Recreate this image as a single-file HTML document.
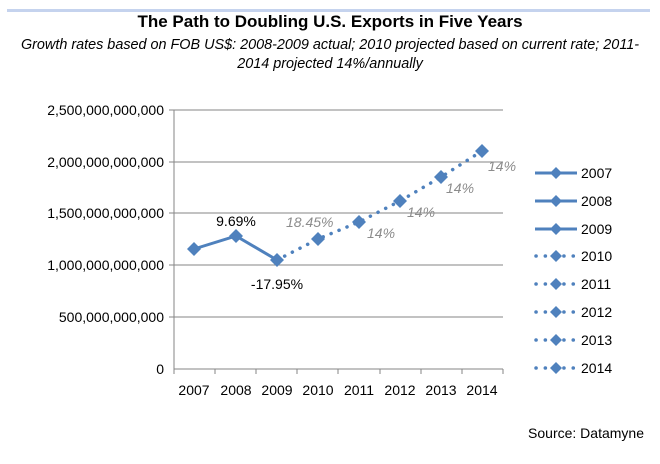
<!DOCTYPE html>
<html><head><style>
body{margin:0;background:#fff;}
svg text{font-family:"Liberation Sans",sans-serif;}
</style></head><body>
<svg width="660" height="459" xmlns="http://www.w3.org/2000/svg">
<rect x="7" y="9" width="643" height="3" fill="#c5d3ee"/>
<text x="330" y="27" text-anchor="middle" font-size="17" font-weight="bold" fill="#000">The Path to Doubling U.S. Exports in Five Years</text>
<text x="330" y="49" text-anchor="middle" font-size="14.4" font-style="italic" fill="#000">Growth rates based on FOB US$: 2008-2009 actual; 2010 projected based on current rate; 2011-</text>
<text x="330" y="68" text-anchor="middle" font-size="14.4" font-style="italic" fill="#000">2014 projected 14%/annually</text>
<g stroke="#868686" stroke-width="1">
<line x1="174" y1="110" x2="503" y2="110"/>
<line x1="174" y1="162" x2="503" y2="162"/>
<line x1="174" y1="213" x2="503" y2="213"/>
<line x1="174" y1="265" x2="503" y2="265"/>
<line x1="174" y1="317" x2="503" y2="317"/>
<line x1="174" y1="369" x2="503" y2="369"/>
<line x1="174" y1="110" x2="174" y2="374"/>
<line x1="215" y1="369" x2="215" y2="374"/><line x1="256" y1="369" x2="256" y2="374"/>
<line x1="297" y1="369" x2="297" y2="374"/><line x1="338" y1="369" x2="338" y2="374"/>
<line x1="380" y1="369" x2="380" y2="374"/><line x1="421" y1="369" x2="421" y2="374"/>
<line x1="462" y1="369" x2="462" y2="374"/><line x1="503" y1="369" x2="503" y2="374"/>
<line x1="169" y1="110" x2="174" y2="110"/><line x1="169" y1="162" x2="174" y2="162"/>
<line x1="169" y1="213" x2="174" y2="213"/><line x1="169" y1="265" x2="174" y2="265"/>
<line x1="169" y1="317" x2="174" y2="317"/>
</g>
<g font-size="14" text-anchor="end" fill="#000">
<text x="164" y="115">2,500,000,000,000</text>
<text x="164" y="167">2,000,000,000,000</text>
<text x="164" y="218">1,500,000,000,000</text>
<text x="164" y="270">1,000,000,000,000</text>
<text x="164" y="322">500,000,000,000</text>
<text x="164" y="374">0</text>
</g>
<g font-size="14" text-anchor="middle" fill="#000">
<text x="194" y="395">2007</text><text x="236" y="395">2008</text><text x="277" y="395">2009</text>
<text x="318" y="395">2010</text><text x="359" y="395">2011</text><text x="400" y="395">2012</text>
<text x="441" y="395">2013</text><text x="482" y="395">2014</text>
</g>
<polyline points="194,249 236,236 277,260" fill="none" stroke="#4f81bd" stroke-width="3"/>
<polyline points="277,260 318,239 359,222 400,201 441,177 482,151" fill="none" stroke="#4f81bd" stroke-width="3.5" stroke-dasharray="0.1 8.5" stroke-linecap="round"/>
<g fill="#4f81bd">
<path d="M194,242 l7,7 -7,7 -7,-7z"/><path d="M236,229 l7,7 -7,7 -7,-7z"/><path d="M277,253 l7,7 -7,7 -7,-7z"/>
<path d="M318,232 l7,7 -7,7 -7,-7z"/><path d="M359,215 l7,7 -7,7 -7,-7z"/><path d="M400,194 l7,7 -7,7 -7,-7z"/>
<path d="M441,170 l7,7 -7,7 -7,-7z"/><path d="M482,144 l7,7 -7,7 -7,-7z"/>
</g>
<text x="236" y="226" font-size="14" text-anchor="middle">9.69%</text>
<text x="277" y="289" font-size="14" text-anchor="middle">-17.95%</text>
<g font-size="14" font-style="italic" fill="#8c8c8c">
<text x="286" y="227">18.45%</text>
<text x="367" y="238">14%</text>
<text x="407" y="217">14%</text>
<text x="446" y="193">14%</text>
<text x="488" y="171">14%</text>
</g>
<g font-size="14" fill="#000">
<g stroke="#4f81bd" stroke-width="3"><line x1="535" y1="173" x2="577" y2="173"/><line x1="535" y1="201" x2="577" y2="201"/><line x1="535" y1="229" x2="577" y2="229"/></g>
<g stroke="#4f81bd" stroke-width="3.5" stroke-dasharray="0.1 9.2" stroke-linecap="round">
<line x1="536" y1="256" x2="578" y2="256"/><line x1="536" y1="284" x2="578" y2="284"/><line x1="536" y1="312" x2="578" y2="312"/><line x1="536" y1="340" x2="578" y2="340"/><line x1="536" y1="368" x2="578" y2="368"/></g>
<g fill="#4f81bd">
<path d="M556,167 l6,6 -6,6 -6,-6z"/><path d="M556,195 l6,6 -6,6 -6,-6z"/><path d="M556,223 l6,6 -6,6 -6,-6z"/>
<path d="M556,250 l6,6 -6,6 -6,-6z"/><path d="M556,278 l6,6 -6,6 -6,-6z"/><path d="M556,306 l6,6 -6,6 -6,-6z"/>
<path d="M556,334 l6,6 -6,6 -6,-6z"/><path d="M556,362 l6,6 -6,6 -6,-6z"/>
</g>
<text x="581" y="178">2007</text><text x="581" y="206">2008</text><text x="581" y="234">2009</text>
<text x="581" y="261">2010</text><text x="581" y="289">2011</text><text x="581" y="317">2012</text>
<text x="581" y="345">2013</text><text x="581" y="373">2014</text>
</g>
<text x="644" y="438" font-size="14" text-anchor="end">Source: Datamyne</text>
</svg>
</body></html>
